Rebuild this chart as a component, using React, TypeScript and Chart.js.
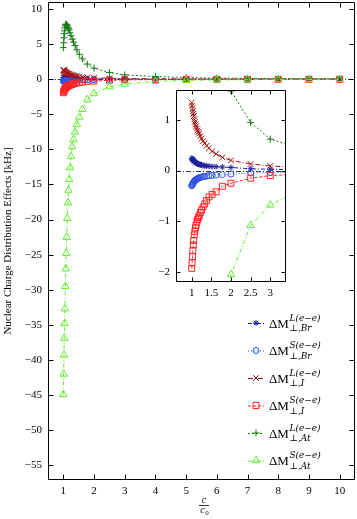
import React, { useEffect, useRef } from "react";
import { Chart, registerables } from "chart.js";
Chart.register(...registerables);

// ---- data ----
const X = [1.0, 1.01, 1.02, 1.03, 1.04, 1.05, 1.065, 1.08, 1.095, 1.11, 1.13, 1.15, 1.17, 1.19, 1.22, 1.25, 1.29, 1.33, 1.38, 1.44, 1.52, 1.62, 1.78, 2.0, 2.5, 3, 4, 5, 6, 7, 8, 9, 10];
const BR_L = [0.24, 0.23, 0.22, 0.21, 0.2, 0.19, 0.18, 0.17, 0.16, 0.15, 0.14, 0.135, 0.13, 0.12, 0.115, 0.11, 0.1, 0.095, 0.09, 0.085, 0.08, 0.075, 0.07, 0.06, 0.035, 0.025, 0.015, 0.01, 0.008, 0.006, 0.005, 0.004, 0.003];
const BR_S = [-0.3, -0.285, -0.27, -0.255, -0.24, -0.23, -0.215, -0.2, -0.19, -0.18, -0.17, -0.16, -0.15, -0.145, -0.135, -0.13, -0.12, -0.115, -0.11, -0.1, -0.095, -0.09, -0.08, -0.07, -0.05, -0.04, -0.025, -0.015, -0.01, -0.008, -0.006, -0.005, -0.004];
const I_L = [1.34, 1.28, 1.22, 1.17, 1.12, 1.07, 1.01, 0.96, 0.91, 0.87, 0.83, 0.79, 0.76, 0.73, 0.68, 0.63, 0.58, 0.54, 0.49, 0.44, 0.38, 0.33, 0.26, 0.2, 0.13, 0.09, 0.05, 0.03, 0.02, 0.015, 0.012, 0.01, 0.008];
const I_S = [-1.93, -1.82, -1.7, -1.58, -1.47, -1.38, -1.27, -1.2, -1.13, -1.08, -1.02, -0.97, -0.93, -0.89, -0.83, -0.78, -0.72, -0.66, -0.59, -0.52, -0.47, -0.42, -0.31, -0.25, -0.15, -0.1, -0.06, -0.04, -0.03, -0.02, -0.015, -0.012, -0.01];
const AT_L = [4.5, 5.2, 5.9, 6.5, 6.9, 7.3, 7.6, 7.8, 7.85, 7.75, 7.6, 7.4, 7.2, 7.0, 6.6, 6.2, 5.7, 5.3, 4.8, 4.2, 3.55, 2.9, 2.15, 1.57, 0.95, 0.62, 0.38, 0.24, 0.16, 0.12, 0.09, 0.07, 0.05];
const AT_S = [-44.9, -42.0, -39.3, -36.9, -34.8, -32.7, -29.5, -27.0, -24.8, -22.5, -19.8, -17.6, -15.8, -14.3, -12.6, -11.0, -9.6, -8.6, -7.5, -6.4, -5.4, -4.3, -2.9, -2.05, -1.08, -0.68, -0.3, -0.17, -0.1, -0.07, -0.05, -0.04, -0.03];

const SERIES_Y = [BR_L, BR_S, I_L, I_S, AT_L, AT_S];
const LEGEND_SUP = ["L(e−e)", "S(e−e)", "L(e−e)", "S(e−e)", "L(e−e)", "S(e−e)"];
const LEGEND_SUB = ["⊥,Br", "⊥,Br", "⊥,I", "⊥,I", "⊥,At", "⊥,At"];

const MAIN_X_TICKS = [1, 2, 3, 4, 5, 6, 7, 8, 9, 10];
const MAIN_Y_TICKS = [-55, -50, -45, -40, -35, -30, -25, -20, -15, -10, -5, 0, 5, 10];
const INSET_X_TICKS = [1, 1.5, 2, 2.5, 3];
const INSET_Y_TICKS = [-2, -1, 0, 1];
const Y_TITLE = "Nuclear Charge Distribution Effects [kHz]";

// ---- styles ----
const STYLES = [
  { color: "#1f1f9e", marker: "star", r: 3, dash: [4, 2, 1, 2] },
  { color: "#2f52e6", marker: "circle", r: 3, dash: [1, 2] },
  { color: "#a31212", marker: "crossRot", r: 4, dash: [5, 2, 1, 2] },
  { color: "#ff2424", marker: "rect", r: 4.2, dash: [3, 2] },
  { color: "#1b7a1b", marker: "cross", r: 3.5, dash: [2, 2] },
  { color: "#62f02e", marker: "triangle", r: 4.3, dash: [4, 2, 1, 2] },
];
const FONT = "'Liberation Serif', 'DejaVu Serif', serif";
const FONT_SCRIPT = "'DejaVu Serif', 'Liberation Serif', serif";

function fmt(v: number) {
  const s = String(Math.abs(v));
  return v < 0 ? "−" + s : s;
}

function drawMarker(ctx: CanvasRenderingContext2D, m: string, x: number, y: number, r: number, color: string) {
  ctx.save();
  ctx.strokeStyle = color;
  ctx.lineWidth = 1;
  ctx.setLineDash([]);
  ctx.beginPath();
  const d = r * Math.SQRT1_2;
  if (m === "star") {
    ctx.moveTo(x - r, y); ctx.lineTo(x + r, y);
    ctx.moveTo(x, y - r); ctx.lineTo(x, y + r);
    ctx.moveTo(x - d, y - d); ctx.lineTo(x + d, y + d);
    ctx.moveTo(x - d, y + d); ctx.lineTo(x + d, y - d);
  } else if (m === "circle") {
    ctx.arc(x, y, r, 0, Math.PI * 2);
  } else if (m === "crossRot") {
    ctx.moveTo(x - d, y - d); ctx.lineTo(x + d, y + d);
    ctx.moveTo(x - d, y + d); ctx.lineTo(x + d, y - d);
  } else if (m === "rect") {
    ctx.rect(x - d, y - d, 2 * d, 2 * d);
  } else if (m === "cross") {
    ctx.moveTo(x - r, y); ctx.lineTo(x + r, y);
    ctx.moveTo(x, y - r); ctx.lineTo(x, y + r);
  } else if (m === "triangle") {
    ctx.moveTo(x, y - r);
    ctx.lineTo(x + 0.866 * r, y + 0.5 * r);
    ctx.lineTo(x - 0.866 * r, y + 0.5 * r);
    ctx.closePath();
  }
  ctx.stroke();
  ctx.restore();
}

const framePlugin = {
  id: "frame",
  beforeDraw(chart: any, _a: any, opts: any) {
    if (opts.fill) {
      const a = chart.chartArea;
      chart.ctx.save();
      chart.ctx.fillStyle = "#fff";
      chart.ctx.fillRect(a.left, a.top, a.right - a.left, a.bottom - a.top);
      chart.ctx.restore();
    }
  },
  beforeDatasetsDraw(chart: any) {
    const { ctx, chartArea: a, scales } = chart;
    const y0 = Math.round(scales.y.getPixelForValue(0)) + 0.5;
    ctx.save();
    ctx.strokeStyle = "#3a3a3a";
    ctx.lineWidth = 1;
    ctx.setLineDash([5, 2, 1, 2]);
    ctx.beginPath();
    ctx.moveTo(a.left, y0);
    ctx.lineTo(a.right, y0);
    ctx.stroke();
    ctx.restore();
  },
  afterDatasetsDraw(chart: any, _a: any, opts: any) {
    const { ctx, chartArea: a, scales } = chart;
    const L = opts.len || 5;
    const l = Math.round(a.left) + 0.5, r = Math.round(a.right) - 0.5;
    const t = Math.round(a.top) + 0.5, b = Math.round(a.bottom) - 0.5;
    ctx.save();
    ctx.strokeStyle = "#000";
    ctx.lineWidth = 1;
    ctx.setLineDash([]);
    ctx.beginPath();
    ctx.rect(l, t, r - l, b - t);
    for (const tk of scales.x.ticks) {
      const px = Math.round(scales.x.getPixelForValue(tk.value)) + 0.5;
      ctx.moveTo(px, b); ctx.lineTo(px, b - L);
      ctx.moveTo(px, t); ctx.lineTo(px, t + L);
    }
    for (const tk of scales.y.ticks) {
      const py = Math.round(scales.y.getPixelForValue(tk.value)) + 0.5;
      ctx.moveTo(l, py); ctx.lineTo(l + L, py);
      ctx.moveTo(r, py); ctx.lineTo(r - L, py);
    }
    ctx.stroke();
    // tick labels
    ctx.fillStyle = "#000";
    ctx.font = `11px ${FONT}`;
    ctx.textBaseline = "middle";
    ctx.textAlign = "center";
    for (const tk of scales.x.ticks) {
      ctx.fillText(fmt(tk.value), scales.x.getPixelForValue(tk.value), a.bottom + opts.xOff);
    }
    ctx.textAlign = "right";
    for (const tk of scales.y.ticks) {
      ctx.fillText(fmt(tk.value), a.left - opts.yOff, scales.y.getPixelForValue(tk.value));
    }
    ctx.restore();
  },
};

const mainDecor = {
  id: "mainDecor",
  afterDraw(chart: any) {
    const ctx: CanvasRenderingContext2D = chart.ctx;
    const a = chart.chartArea;
    ctx.save();
    ctx.fillStyle = "#000";
    // y title
    ctx.save();
    ctx.translate(8, (a.top + a.bottom) / 2);
    ctx.rotate(-Math.PI / 2);
    ctx.font = `11px ${FONT}`;
    ctx.textAlign = "center";
    ctx.textBaseline = "middle";
    ctx.fillText(Y_TITLE, 0, 0);
    ctx.restore();
    // x title c / c0
    const cx = 204;
    ctx.font = `italic 10px ${FONT}`;
    ctx.textAlign = "center";
    ctx.textBaseline = "alphabetic";
    ctx.fillText("c", cx, 503);
    ctx.fillRect(cx - 5, 505, 10, 0.8);
    ctx.fillText("c", cx - 1.5, 513);
    ctx.font = `7px ${FONT}`;
    ctx.fillText("0", cx + 3, 515);
    // legend
    const x0 = 256;
    for (let i = 0; i < STYLES.length; i++) {
      const s = STYLES[i];
      const yc = 323 + i * 27.5;
      ctx.save();
      ctx.strokeStyle = s.color;
      ctx.lineWidth = 1;
      ctx.setLineDash(s.dash);
      ctx.beginPath();
      ctx.moveTo(x0 - 8, yc + 0.5);
      ctx.lineTo(x0 + 8, yc + 0.5);
      ctx.stroke();
      ctx.restore();
      drawMarker(ctx, s.marker, x0, yc, s.r, s.color);
      ctx.fillStyle = "#000";
      ctx.textAlign = "left";
      ctx.textBaseline = "alphabetic";
      ctx.font = `13px ${FONT}`;
      ctx.fillText("ΔM", 269, yc + 4.5);
      const w = ctx.measureText("ΔM").width;
      ctx.font = `italic 9px ${FONT_SCRIPT}`;
      ctx.fillText(LEGEND_SUP[i], 269 + w + 0.5, yc - 2.5);
      ctx.fillText(LEGEND_SUB[i], 269 + w + 0.5, yc + 8);
    }
    ctx.restore();
  },
};

function makeDatasets() {
  return SERIES_Y.map((ys, i) => {
    const s = STYLES[i];
    return {
      label: "s" + i,
      data: X.map((x, j) => ({ x, y: ys[j] })),
      borderColor: s.color,
      backgroundColor: "rgba(0,0,0,0)",
      pointBackgroundColor: "rgba(0,0,0,0)",
      pointBorderColor: s.color,
      pointStyle: s.marker,
      pointRadius: s.r,
      pointBorderWidth: 1,
      pointHoverRadius: s.r,
      borderWidth: 1,
      borderDash: s.dash,
      fill: false,
      tension: 0,
      order: 10 - i,
    };
  });
}

function scaleCfg(min: number, max: number, ticks: number[], axis: "x" | "y", size: number) {
  return {
    type: "linear",
    min,
    max,
    offset: false,
    grid: { display: false, drawTicks: false },
    border: { display: false },
    ticks: { display: false },
    afterBuildTicks: (sc: any) => {
      sc.ticks = ticks.map((v) => ({ value: v }));
    },
    afterFit: (sc: any) => {
      if (axis === "x") sc.height = size;
      else sc.width = size;
      sc.paddingTop = 0;
      sc.paddingBottom = 0;
      sc.paddingLeft = 0;
      sc.paddingRight = 0;
    },
  };
}

export default function App() {
  const mainRef = useRef<HTMLCanvasElement>(null);
  const insetRef = useRef<HTMLCanvasElement>(null);
  useEffect(() => {
    const main = new Chart(mainRef.current as HTMLCanvasElement, {
      type: "line",
      data: { datasets: makeDatasets() as any },
      options: {
        responsive: false,
        animation: false,
        devicePixelRatio: 1,
        layout: { autoPadding: false, padding: { top: 2, right: 2, left: 0, bottom: 0 } },
        plugins: { legend: { display: false }, tooltip: { enabled: false }, frame: { len: 5, xOff: 11, yOff: 6 } } as any,
        scales: {
          x: scaleCfg(0.5, 10.5, MAIN_X_TICKS, "x", 39) as any,
          y: scaleCfg(-57.1, 11, MAIN_Y_TICKS, "y", 48) as any,
        },
      },
      plugins: [framePlugin, mainDecor],
    });
    const inset = new Chart(insetRef.current as HTMLCanvasElement, {
      type: "line",
      data: { datasets: makeDatasets() as any },
      options: {
        responsive: false,
        animation: false,
        devicePixelRatio: 1,
        layout: { autoPadding: false, padding: { top: 6, right: 4, left: 0, bottom: 0 } },
        plugins: { legend: { display: false }, tooltip: { enabled: false }, frame: { len: 4, fill: true, xOff: 11.5, yOff: 6 } } as any,
        scales: {
          x: scaleCfg(0.6, 3.4, INSET_X_TICKS, "x", 24) as any,
          y: scaleCfg(-2.2, 1.59, INSET_Y_TICKS, "y", 36) as any,
        },
      },
      plugins: [framePlugin],
    });
    return () => {
      main.destroy();
      inset.destroy();
    };
  }, []);
  return (
    <div style={{ position: "fixed", left: 0, top: 0, width: 357, height: 519, background: "#fff" }}>
      <canvas ref={mainRef} width={357} height={519} style={{ position: "absolute", left: 0, top: 0 }} />
      <canvas ref={insetRef} width={150} height={222} style={{ position: "absolute", left: 140, top: 84 }} />
    </div>
  );
}
